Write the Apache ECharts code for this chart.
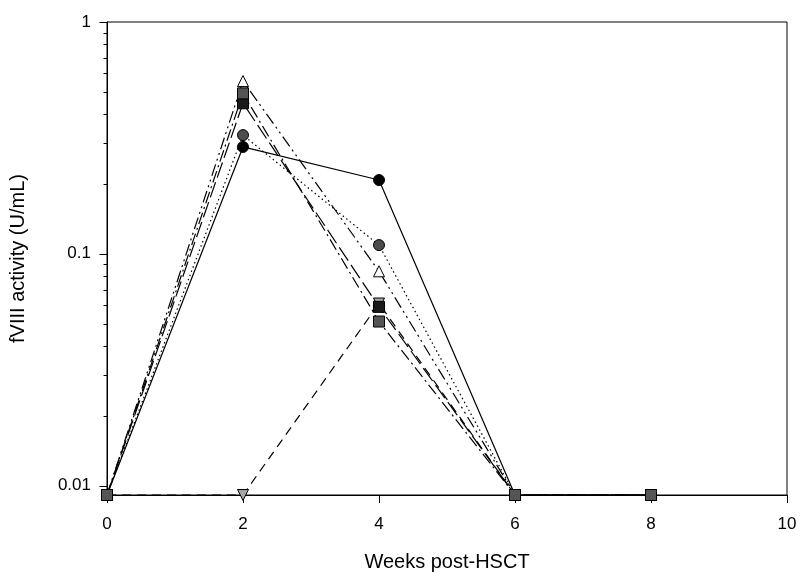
<!DOCTYPE html>
<html>
<head>
<meta charset="utf-8">
<script src="https://cdn.jsdelivr.net/npm/echarts@6/dist/echarts.min.js"></script>
<style>
  html, body { margin: 0; padding: 0; background: #fff; }
  #chart { width: 804px; height: 581px; }
</style>
</head>
<body>
<div id="chart"></div>
<script>
// Weeks after transplant
const weeks = [0, 2, 4, 6, 8];

// fVIII activity (U/mL) per patient; the lowest value sits at the detection floor
const patientA = [0.0091, 0.289, 0.208, 0.0091, 0.0091];   // black circles, solid
const patientB = [0.0091, 0.325, 0.109, 0.0091, 0.0091];   // grey circles, dotted
const patientC = [0.0091, 0.556, 0.084, 0.0091, 0.0091];   // open triangles
const patientD = [0.0091, 0.0091, 0.061, 0.0091, 0.0091];  // grey down-triangles, dashed
const patientE = [0.0091, 0.446, 0.059, 0.0091, 0.0091];   // black squares
const patientF = [0.0091, 0.492, 0.051, 0.0091, 0.0091];   // grey squares

// Log-axis ticks
const majorTicks = [0.01, 0.1, 1];
const minorTicks = [0.02, 0.03, 0.04, 0.05, 0.06, 0.07, 0.08, 0.09,
                    0.2, 0.3, 0.4, 0.5, 0.6, 0.7, 0.8, 0.9];
const xTickLabels = ['0', '2', '4', '6', '8', '10'];

const FONT = 'Liberation Sans, Arial, sans-serif';

function pairs(vals) {
  return vals.map((v, i) => [weeks[i], v]);
}

function lineSeries(name, vals, symbol, fill, dash, opts) {
  return Object.assign({
    name: name,
    type: 'line',
    data: pairs(vals),
    symbol: symbol,
    symbolSize: 11,
    showSymbol: true,
    animation: false,
    lineStyle: { color: '#000', width: 1.2, type: dash },
    itemStyle: { color: fill, borderColor: '#000', borderWidth: 1 },
    emphasis: { disabled: true },
    z: 3
  }, opts || {});
}

const chart = echarts.init(document.getElementById('chart'), null, { renderer: 'canvas' });

chart.setOption({
  backgroundColor: '#fff',
  animation: false,
  grid: {
    left: 107, right: 17, top: 22, bottom: 86,
    show: true, borderColor: '#000', borderWidth: 1, backgroundColor: 'transparent'
  },
  xAxis: {
    type: 'value',
    min: 0, max: 10, interval: 2,
    name: 'Weeks post-HSCT',
    nameLocation: 'middle',
    nameGap: 57,
    nameTextStyle: { fontFamily: FONT, fontSize: 20, color: '#000' },
    axisLine: { lineStyle: { color: '#000', width: 1 } },
    axisTick: { show: true, inside: false, length: 8, lineStyle: { color: '#000', width: 1 } },
    axisLabel: {
      margin: 21, fontFamily: FONT, fontSize: 17, color: '#000',
      formatter: v => xTickLabels[Math.round(v / 2)]
    },
    splitLine: { show: false }
  },
  yAxis: {
    type: 'log',
    logBase: 10,
    min: 0.0091, max: 1,
    name: 'fVIII activity (U/mL)',
    nameLocation: 'middle',
    nameGap: 79,
    nameTextStyle: { fontFamily: FONT, fontSize: 20, color: '#000' },
    axisLine: { show: true, lineStyle: { color: '#000', width: 1 } },
    axisTick: { show: false },
    axisLabel: {
      margin: 16, fontFamily: FONT, fontSize: 17, color: '#000',
      showMinLabel: false,
      formatter: v => String(+Number(v).toPrecision(3))
    },
    splitLine: { show: false }
  },
  series: [
    lineSeries('A', patientA, 'circle', '#000', 'solid'),
    lineSeries('B', patientB, 'circle', '#4d4d4d', [1.5, 3]),
    lineSeries('C', patientC, 'triangle', '#fff', [12, 4, 2, 4, 2, 4]),
    lineSeries('D', patientD, 'triangle', '#a6a6a6', [9, 6], { symbolRotate: 180 }),
    lineSeries('E', patientE, 'rect', '#1a1a1a', [16, 5]),
    lineSeries('F', patientF, 'rect', '#555555', [12, 4, 2, 4])
  ]
});

// Log-scale tick marks on the left axis (major and minor), placed through the axis scale
function yTicks(values, len) {
  return values.map(v => {
    const p = chart.convertToPixel({ gridIndex: 0 }, [0, v]);
    const y = Math.round(p[1]) + 0.5;
    const x = Math.round(p[0]) + 0.5;
    return {
      type: 'line',
      silent: true,
      z: 10,
      shape: { x1: x - len, y1: y, x2: x, y2: y },
      style: { stroke: '#000', lineWidth: 1 }
    };
  });
}

chart.setOption({
  graphic: { elements: yTicks(majorTicks, 8).concat(yTicks(minorTicks, 4)) }
});
</script>
</body>
</html>
